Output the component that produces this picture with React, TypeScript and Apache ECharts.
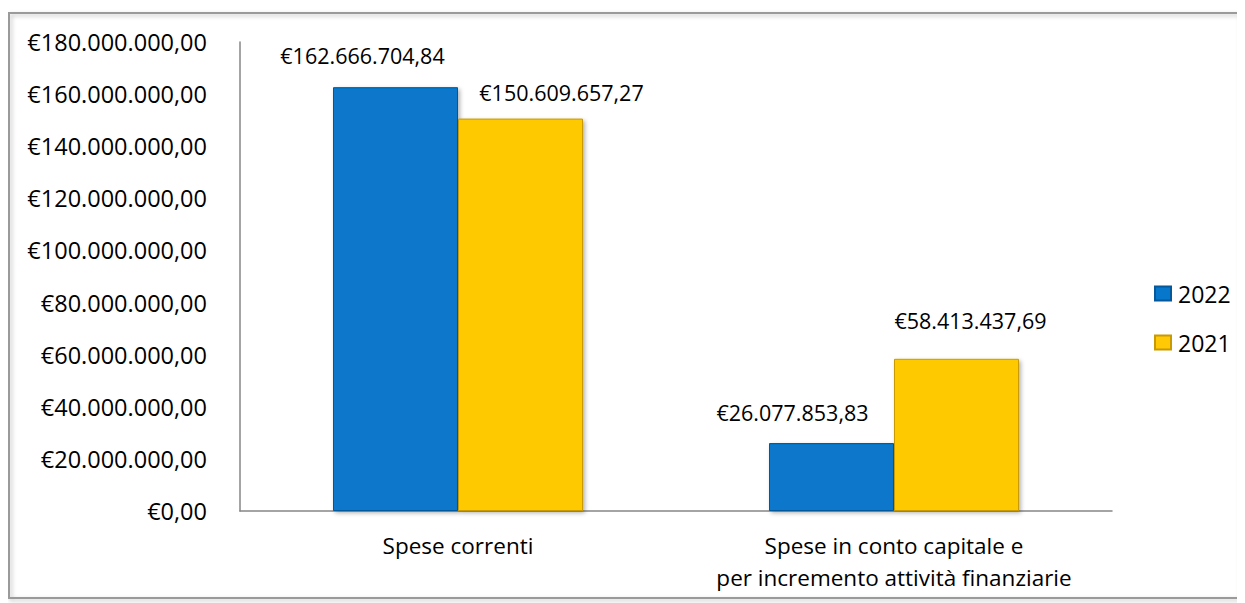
import React, { useEffect, useRef } from "react";
import * as echarts from "echarts";

const categories = ["Spese correnti", "Spese in conto capitale e\nper incremento attività finanziarie"];
const series2022 = [162666704.84, 26077853.83];
const series2021 = [150609657.27, 58413437.69];
const seriesNames = ["2022", "2021"];
const labelOffsets2022 = [[-33, -21], [-39, -20]];
const labelOffsets2021 = [[41, -15], [14, -27]];

function fmtEuro(v: number): string {
  const neg = v < 0;
  const abs = Math.abs(v);
  const fixed = abs.toFixed(2);
  const [intPart, dec] = fixed.split(".");
  const withDots = intPart.replace(/\B(?=(\d{3})+(?!\d))/g, ".");
  return (neg ? "-" : "") + "€" + withDots + "," + dec;
}

const FONT = "Open Sans";

export default function App() {
  const ref = useRef<HTMLDivElement>(null);
  useEffect(() => {
    if (!ref.current) return;
    const chart = echarts.init(ref.current, undefined, { renderer: "svg" });
    const mkData = (vals: number[], offs: number[][]) =>
      vals.map((v, i) => ({ value: v, label: { offset: offs[i] } }));
    const barLabel = {
      show: true,
      position: "top",
      distance: 0,
      fontFamily: FONT,
      fontSize: 21.5,
      color: "#000",
      formatter: (p: any) => fmtEuro(p.value),
    };
    chart.setOption({
      animation: false,
      backgroundColor: "#ffffff",
      graphic: [
        {
          type: "rect",
          shape: { x: 1, y: 5, width: 1230, height: 585 },
          style: {
            fill: "none",
            stroke: "#9a9a9a",
            lineWidth: 2,
            shadowBlur: 4,
            shadowOffsetX: 2,
            shadowOffsetY: 2,
            shadowColor: "rgba(0,0,0,0.25)",
          },
          silent: true,
        },
      ],
      legend: {
        orient: "vertical",
        left: 1141,
        top: 269,
        itemWidth: 16,
        itemHeight: 14,
        itemGap: 26,
        icon: "rect",
        data: seriesNames,
        textStyle: { fontFamily: FONT, fontSize: 23, color: "#000", padding: [0, 0, 0, 2] },
      },
      grid: { left: 232, top: 34, width: 872, height: 469, containLabel: false },
      xAxis: {
        type: "category",
        data: categories,
        axisLine: { show: true, lineStyle: { color: "#868686", width: 1.5 } },
        axisTick: { show: false },
        axisLabel: {
          fontFamily: FONT,
          fontSize: 22.5,
          color: "#000",
          lineHeight: 32,
          margin: 18,
          interval: 0,
        },
      },
      yAxis: {
        type: "value",
        min: 0,
        max: 180000000,
        interval: 20000000,
        splitLine: { show: false },
        axisLine: { show: true, lineStyle: { color: "#868686", width: 1.5 } },
        axisTick: { show: false },
        axisLabel: {
          fontFamily: FONT,
          fontSize: 23.5,
          color: "#000",
          margin: 33,
          formatter: (v: number) => fmtEuro(v),
        },
      },
      series: [
        {
          name: seriesNames[0],
          type: "bar",
          data: mkData(series2022, labelOffsets2022),
          barWidth: 125,
          barGap: "0%",
          itemStyle: {
            color: "#0777CB",
            borderColor: "#05599a",
            borderWidth: 1,
            shadowBlur: 4,
            shadowOffsetX: 2,
            shadowOffsetY: 2,
            shadowColor: "rgba(0,0,0,0.3)",
          },
          label: barLabel,
        },
        {
          name: seriesNames[1],
          type: "bar",
          data: mkData(series2021, labelOffsets2021),
          barWidth: 125,
          barGap: "0%",
          itemStyle: {
            color: "#FFC905",
            borderColor: "#c99a00",
            borderWidth: 1,
            shadowBlur: 4,
            shadowOffsetX: 2,
            shadowOffsetY: 2,
            shadowColor: "rgba(0,0,0,0.3)",
          },
          label: barLabel,
        },
      ],
    });
    return () => chart.dispose();
  }, []);
  return <div ref={ref} style={{ width: 1237, height: 595 }} />;
}
